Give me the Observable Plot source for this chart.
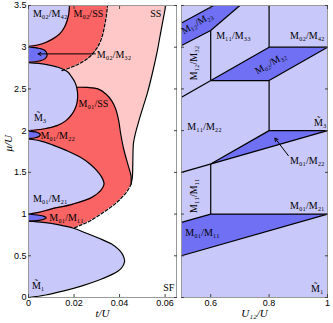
<!DOCTYPE html>
<html><head><meta charset="utf-8">
<script src="https://cdn.jsdelivr.net/npm/d3@7"></script>
<script src="https://cdn.jsdelivr.net/npm/@observablehq/plot@0.6"></script>
<style>
body{margin:0;background:#fff}
#wrap{position:relative;width:333px;height:323px;background:#fff}
#left{position:absolute;left:0;top:0}
#right{position:absolute;left:178px;top:0}
</style></head><body><div id="wrap"><div id="left"></div><div id="right"></div></div>
<script>
// ---- ticks ----
const muTicks = [0, 0.5, 1, 1.5, 2, 2.5, 3, 3.5];
const tTicks = [0, 0.02, 0.04, 0.06];
const u12Ticks = [0.6, 0.8, 1];

// ---- left panel: Mott lobes, [mu, t] ----
const lobeM1 = [[0,0],[0.03,0.0075],[0.08,0.0155],[0.14,0.0235],[0.21,0.031],[0.28,0.037],[0.35,0.0407],[0.43,0.0422],[0.5,0.0416],[0.57,0.0398],[0.64,0.0365],[0.71,0.031],[0.77,0.0255],[0.83,0.0198],[0.87,0.0135],[0.9,0.0065],[0.915,0]];
const lobeM01M11 = [[0.915,0],[0.925,0.0045],[0.938,0.0068],[0.955,0.0078],[0.972,0.0068],[0.986,0.0045],[0.998,0]];
const lobeM01M21 = [[1.0,0],[1.02,0.0045],[1.06,0.0098],[1.12,0.0195],[1.2,0.0278],[1.28,0.0317],[1.36,0.0332],[1.44,0.0322],[1.52,0.030],[1.6,0.027],[1.68,0.0228],[1.76,0.0168],[1.83,0.0105],[1.875,0.0055],[1.9,0]];
const lobeM01M22 = [[1.905,0],[1.915,0.003],[1.93,0.0046],[1.95,0.0052],[1.97,0.0046],[1.985,0.003],[1.995,0]];
const lobeM3 = [[2.0,0],[2.02,0.0065],[2.06,0.0125],[2.12,0.0165],[2.2,0.0192],[2.3,0.021],[2.4,0.0216],[2.5,0.0213],[2.58,0.0204],[2.65,0.0188],[2.7,0.0174],[2.76,0.013],[2.795,0.0075],[2.815,0]];
const lobeM02M32 = [[2.82,0],[2.835,0.0048],[2.86,0.0072],[2.91,0.0082],[2.96,0.0072],[2.985,0.0048],[3.005,0]];
const lobeM02M42 = [[3.01,0],[3.03,0.0045],[3.06,0.0078],[3.1,0.0107],[3.16,0.0137],[3.24,0.0158],[3.32,0.017],[3.4,0.0177],[3.5,0.018],[3.6,0.0182]];

// ---- left panel: other boundaries, [mu, t] ----
const bM01SSsolid = [[2.52,0.0213],[2.518,0.026],[2.5,0.0305],[2.44,0.034],[2.36,0.0365],[2.26,0.0383],[2.12,0.0396],[1.96,0.0405],[1.78,0.0418],[1.58,0.0438],[1.46,0.045],[1.36,0.0451]];
const bM01SSdashed = [[1.36,0.0451],[1.28,0.0435],[1.17,0.040],[1.08,0.036],[1.0,0.0318],[0.92,0.0272],[0.87,0.0232],[0.83,0.0198]];
const bSS = [[1.37,0.0451],[1.44,0.0456],[1.6,0.0458],[1.75,0.0459],[1.85,0.0461],[1.95,0.0468],[2.12,0.0485],[2.3,0.0505],[2.45,0.0522],[2.7,0.0545],[2.96,0.0566],[3.2,0.0582],[3.5,0.0603],[3.6,0.061]];
const bM02SSdashed = [[2.72,0.0147],[2.78,0.0206],[2.87,0.0262],[2.98,0.0298],[3.1,0.032],[3.24,0.0333],[3.38,0.0342],[3.5,0.0347],[3.6,0.0349]];

// ---- right panel: regions [U12, mu] and boundary segments ----
const polyM01M11 = [[0.5,0.5],[1,1],[0.6,1],[0.5,0.9]];
const polyM01M22 = [[0.6,1.6],[1,2],[0.8,2]];
const polyM02M32 = [[0.6,2.6],[0.8,2.6],[1,3],[0.8,3]];
const polyM12M23 = [[0.5,3.02],[0.6,3.2],[0.7,3.5],[0.61,3.5],[0.5,3.29]];
const segments = [
  [0.5,0.5,1,1],[0.5,0.9,0.6,1.0],[0.6,1.0,1,1.0],[0.6,1.0,0.6,1.6],
  [0.5,1.5,1,2],[0.6,1.6,0.8,2],[0.8,2,1,2],[0.8,2,0.8,2.6],
  [0.5,2.4,0.8,3.0],[0.6,2.6,0.8,2.6],[0.8,2.6,1,3],[0.8,3,1,3],
  [0.8,3,0.8,3.5],[0.6,2.6,0.6,3.2],[0.5,3.02,0.6,3.2],[0.6,3.2,0.7,3.5],[0.5,3.29,0.61,3.5]
];

// ---- labels (text, x, mu, rotate) ----
const leftLabels = [
  ["M₀₂/M₄₂",0.0095,3.395],["M₀₂/SS",0.0263,3.395],["SS",0.0559,3.395],
  ["M̃₃",0.0051,2.157],["M₀₁/SS",0.0285,2.325],["M₀₁/M₂₂",0.0128,1.94],
  ["M₀₁/M₂₁",0.0095,1.18],["M₀₁/M₁₁",0.0167,0.96],["M̃₁",0.0042,0.14],["SF",0.0616,0.115]
];
const leftArrowLabel = [["M₀₂/M₃₂",0.0300,2.915]];
const leftArrow = [[0.0294,2.92,0.0042,2.92]];
const rightLabels = [
  ["M₁₂/M₂₃",0.553,3.29,-30],["M₁₁/M₃₃",0.678,3.14,0],["M₀₂/M₄₂",0.931,3.14,0],
  ["M₁₂/M₃₂",0.541,2.81,-90],["M₀₂/M₃₂",0.805,2.81,-30],["M₁₁/M₂₂",0.579,2.05,0],
  ["M̃₃",0.975,2.1,0],["M₀₁/M₂₂",0.931,1.64,0],["M₁₁/M₁₁",0.541,1.22,-90],
  ["M₀₁/M₂₁",0.931,1.1,0],["M₀₁/M₁₁",0.572,0.775,0],["M̃₁",0.965,0.10,0]
];
const rightArrow = [[0.866,1.70,0.82,1.91]];

const LIGHT = "#c8c8fa", DARK = "#7070f4", RED = "#fa6464", PINK = "#ffc8c8";
const SERIF = "Liberation Serif, DejaVu Serif, serif";
const SANS = "Liberation Sans, Arial, sans-serif";
const toTM = a => a.map(([mu, t]) => ({mu, t}));
const fmt = d => String(d);
const LW = 1.2;

function lobe(data, fill) {
  const d = toTM(data);
  return [
    Plot.areaX(d, {y: "mu", x: "t", fill, curve: "catmull-rom", clip: true}),
    Plot.lineX(d, {y: "mu", x: "t", stroke: "black", strokeWidth: LW, curve: "catmull-rom", clip: true})
  ];
}
function bline(data, dash) {
  return Plot.lineX(toTM(data), {y: "mu", x: "t", stroke: "black", strokeWidth: LW, curve: "catmull-rom", clip: true, strokeDasharray: dash});
}
function area(data, fill) {
  return Plot.areaX(toTM(data), {y: "mu", x: "t", fill, curve: "catmull-rom", clip: true});
}
function yAxes() {
  return [
    Plot.axisY(muTicks, {anchor: "left", tickSize: -3, tickFormat: () => "", stroke: "#444"}),
    Plot.axisY(muTicks, {anchor: "right", tickSize: -3, tickFormat: () => "", stroke: "#444"})
  ];
}
const redM01 = [...bM01SSdashed].reverse().concat(bM01SSsolid.slice(0, -1).reverse());

const left = Plot.plot({
  width: 178, height: 323,
  marginLeft: 28, marginRight: 2, marginTop: 5, marginBottom: 26,
  x: {domain: [0, 0.065], label: null},
  y: {domain: [0, 3.5], label: null},
  style: {fontFamily: SANS, fontSize: "9px", background: "white", color: "black"},
  marks: [
    area(bSS, PINK),
    area(redM01, RED),
    area(bM02SSdashed, RED),
    ...lobe(lobeM1, LIGHT), ...lobe(lobeM01M21, LIGHT), ...lobe(lobeM3, LIGHT), ...lobe(lobeM02M42, LIGHT),
    ...lobe(lobeM01M11, DARK), ...lobe(lobeM01M22, DARK), ...lobe(lobeM02M32, DARK),
    bline(bM01SSsolid), bline(bM01SSdashed, "3,2"), bline(bSS), bline(bM02SSdashed, "3,2"),
    Plot.frame({stroke: "#999"}),
    ...yAxes(),
    Plot.axisY(muTicks, {anchor: "left", tickSize: 0, tickPadding: 2, tickFormat: fmt, fontSize: 9}),
    Plot.axisX(tTicks, {anchor: "bottom", tickSize: -3, tickFormat: () => "", stroke: "#444"}),
    Plot.axisX(tTicks, {anchor: "top", tickSize: -3, tickFormat: () => "", stroke: "#444"}),
    Plot.axisX(tTicks, {anchor: "bottom", tickSize: 0, tickPadding: 2, tickFormat: fmt, fontSize: 9}),
    Plot.text(leftLabels, {x: d => d[1], y: d => d[2], text: d => d[0], fontFamily: SERIF, fontSize: 10}),
    Plot.text(leftArrowLabel, {x: d => d[1], y: d => d[2], text: d => d[0], textAnchor: "start", fontFamily: SERIF, fontSize: 10}),
    Plot.arrow(leftArrow, {x1: d => d[0], y1: d => d[1], x2: d => d[2], y2: d => d[3], stroke: "black", strokeWidth: 1, headLength: 5}),
    Plot.text(["μ/U"], {frameAnchor: "left", dx: -20, rotate: -90, fontFamily: SERIF, fontStyle: "italic", fontSize: 11}),
    Plot.text(["t/U"], {frameAnchor: "bottom", dy: 19, fontFamily: SERIF, fontStyle: "italic", fontSize: 11})
  ]
});
document.getElementById("left").appendChild(left);

const right = Plot.plot({
  width: 155, height: 323,
  marginLeft: 3, marginRight: 6, marginTop: 5, marginBottom: 26,
  x: {domain: [0.5, 1], label: null},
  y: {domain: [0, 3.5], label: null},
  style: {fontFamily: SANS, fontSize: "9px", background: "transparent", color: "black", overflow: "visible"},
  marks: [
    Plot.frame({fill: LIGHT}),
    ...[polyM01M11, polyM01M22, polyM02M32, polyM12M23].map(p =>
      Plot.line(p, {x: d => d[0], y: d => d[1], fill: DARK, stroke: null, clip: true})),
    Plot.link(segments, {x1: d => d[0], y1: d => d[1], x2: d => d[2], y2: d => d[3], stroke: "black", strokeWidth: LW}),
    Plot.frame({stroke: "#999"}),
    ...yAxes(),
    Plot.axisX(u12Ticks, {anchor: "bottom", tickSize: -3, tickFormat: () => "", stroke: "#444"}),
    Plot.axisX(u12Ticks, {anchor: "top", tickSize: -3, tickFormat: () => "", stroke: "#444"}),
    Plot.axisX(u12Ticks, {anchor: "bottom", tickSize: 0, tickPadding: 2, tickFormat: fmt, fontSize: 9}),
    Plot.text(rightLabels, {x: d => d[1], y: d => d[2], text: d => d[0], rotate: d => d[3], fontFamily: SERIF, fontSize: 10}),
    Plot.arrow(rightArrow, {x1: d => d[0], y1: d => d[1], x2: d => d[2], y2: d => d[3], stroke: "black", strokeWidth: 1, headLength: 5}),
    Plot.text(["U₁₂/U"], {frameAnchor: "bottom", dy: 19, fontFamily: SERIF, fontStyle: "italic", fontSize: 11})
  ]
});
document.getElementById("right").appendChild(right);
</script>
</body></html>
